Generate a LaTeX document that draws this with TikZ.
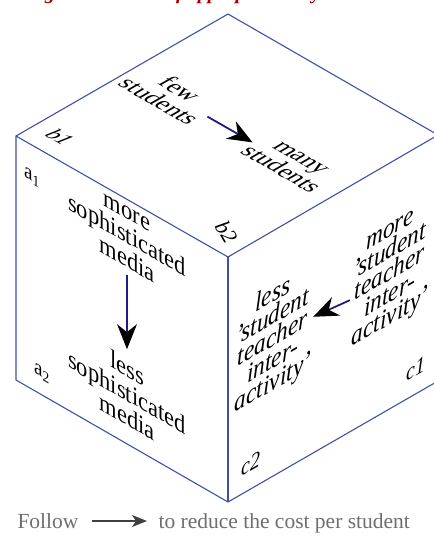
\documentclass[tikz,border=0pt]{standalone}
\usepackage{fontspec}
\setmainfont{Liberation Serif}
\usetikzlibrary{positioning,arrows.meta}
\definecolor{cubeblue}{RGB}{64,80,168}
\definecolor{shaftblue}{RGB}{30,30,130}
\definecolor{titlered}{RGB}{160,0,0}
\definecolor{notegray}{RGB}{110,110,110}
\tikzset{%
  left face/.style={
    cm={0.866,-0.5,0,1,(0,0)},
    align=center,
    inner sep=2pt,
    font=\fontsize{26}{24.5}\selectfont
  },
  right face/.style={
    cm={0.866,0.5,0,1,(0,0)},
    align=center,
    inner sep=2pt,
    font=\fontsize{27}{22}\selectfont\itshape
  },
  top face/.style={
    cm={0.866,-0.5,0.866,0.5,(0,0)},
    align=center,
    inner sep=2pt,
    font=\fontsize{25}{24}\selectfont
  },
}

\begin{document}
\begin{tikzpicture}[x=1pt,y=-1pt,node distance=73pt,>=latex]
        \tikzstyle{edge}=[draw=cubeblue,line width=1.1pt]
        \tikzstyle{move}=[draw=shaftblue,line width=1.8pt,-{Stealth[length=25pt,width=20pt,inset=8pt,color=black]}]
        \tikzstyle{corner}=[inner sep=1pt,font=\fontsize{22}{22}\selectfont]

        \useasboundingbox (0,0) rectangle (434,536);

        \node[anchor=base west,inner sep=0pt,text=titlered,font=\fontsize{20}{20}\selectfont\bfseries\itshape] (caption) at (26,-1) {Figure 5.3 Cube of appropriate ways};

        \coordinate (top) at (228,14);
        \coordinate (left) at (16,136);
        \coordinate (right) at (438,135);
        \coordinate (front) at (228,257);
        \coordinate (leftbot) at (16,380);
        \coordinate (bot) at (228,502);
        \coordinate (rightbot) at (438,381);

        \draw[edge] (left) -- (top) -- (right) -- (rightbot) -- (bot) -- (leftbot) -- cycle;
        \draw[edge] (left) -- (front) -- (right);
        \draw[edge] (front) -- (bot);

        \node[top face] (few) at (170,95) {few\\students};
        \node[top face] (many) at (290,164) {many\\students};
        \draw[move] (few.east) -- (many.west);

        \node[left face] (richmedia) at (127,237) {more\\sophisticated\\media};
        \node[left face] (poormedia) at (127,392) {less\\sophisticated\\media};
        \draw[move,shorten <=5pt,shorten >=7pt] (richmedia.south) -- (poormedia.north);

        \node[right face] (moreinter) at (390,277) {more\\'student\\teacher\\inter-\\activity'};
        \node[right face] (lessinter) at (273,340) {less\\'student\\teacher\\inter-\\activity'};
        \draw[move] (moreinter.west) -- (lessinter.east);

        \node[corner,left face,font=\fontsize{22}{22}\selectfont] (a1) at (32,177) {a\textsubscript{1}};
        \node[corner,left face,font=\fontsize{22}{22}\selectfont] (a2) at (42,373) {a\textsubscript{2}};
        \node[corner,top face,font=\fontsize{22}{22}\selectfont\itshape] (b1) at (60,137) {b1};
        \node[corner,rotate=-60,font=\fontsize{22}{22}\selectfont\itshape] (b2) at (227,232) {b2};
        \node[corner,right face,font=\fontsize{23}{23}\selectfont\itshape] (c1) at (416,369) {c1};
        \node[corner,right face,font=\fontsize{23}{23}\selectfont\itshape] (c2) at (251,464) {c2};

        \node[text=notegray,font=\fontsize{21.5}{22}\selectfont] (follow) at (48,521) {Follow};
        \node[text=notegray,font=\fontsize{21.5}{22}\selectfont,base right=of follow] (reduce) {to reduce the cost per student};
        \draw[draw=black!75,line width=1.8pt,-{Stealth[length=15pt,width=12pt,inset=4pt]},shorten <=10pt,shorten >=8pt] (follow.east) -- (follow.east -| reduce.west);
\end{tikzpicture}
\end{document}
